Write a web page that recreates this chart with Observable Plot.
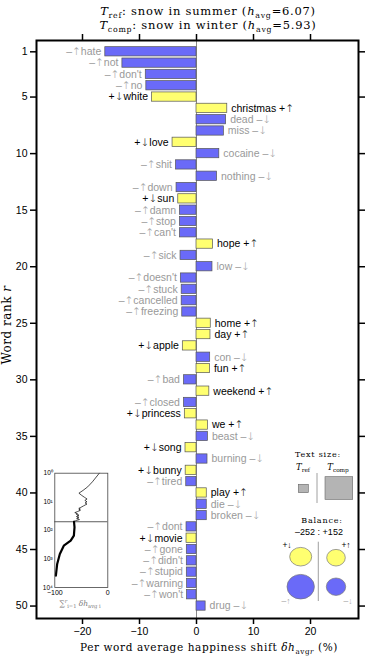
<!DOCTYPE html>
<html>
<head>
<meta charset="utf-8">
<script src="https://cdn.jsdelivr.net/npm/d3@7"></script>
<script src="https://cdn.jsdelivr.net/npm/@observablehq/plot@0.6"></script>
<style>
html,body{margin:0;padding:0;background:#fff;}
#wrap{position:relative;width:366px;height:656px;overflow:hidden;}
#wrap svg{position:absolute;}
</style>
</head>
<body>
<div id="wrap"></div>
<script>
// ---- data ----
const words = ["hate","not","don't","no","white","christmas","dead","miss","love","cocaine","shit","nothing","down","sun","damn","stop","can't","hope","sick","low","doesn't","stuck","cancelled","freezing","home","day","apple","con","fun","bad","weekend","closed","princess","we","beast","song","burning","bunny","tired","play","die","broken","dont","movie","gone","didn't","stupid","warning","won't","drug"];
const shifts = [-16.0,-13.0,-8.9,-8.8,-7.8,5.4,5.2,4.8,-4.2,4.0,-3.6,3.6,-3.5,-3.2,-2.9,-2.9,-2.9,2.9,-2.8,2.8,-2.75,-2.6,-2.6,-2.5,2.5,2.45,-2.4,2.4,2.35,-2.2,2.25,-2.2,-2.05,2.0,2.0,-1.93,1.93,-1.9,-1.8,1.8,1.8,1.8,-1.75,-1.75,-1.7,-1.7,-1.7,-1.65,-1.65,1.6];
// happiness sign of word and direction of frequency change
const signs = ["–","–","–","–","+","+","–","–","+","–","–","–","–","+","–","–","–","+","–","–","–","–","–","–","+","+","+","–","+","–","+","–","+","+","–","+","–","+","–","+","–","–","–","+","–","–","–","–","–","–"];
const arrows = ["↑","↑","↑","↑","↓","↑","↓","↓","↓","↓","↑","↓","↑","↓","↑","↑","↑","↑","↑","↓","↑","↑","↑","↑","↑","↑","↓","↓","↑","↑","↑","↑","↓","↑","↓","↓","↓","↓","↑","↑","↓","↓","↑","↓","↑","↑","↑","↑","↑","↓"];
const rankTicks = [1,5,10,15,20,25,30,35,40,45,50];
const shiftTicks = [-20,-10,0,10,20];
// inset: cumulative shift beyond rank 50
const tailRanks = [78,153,230,345,670,1500,3850];
const tailCum = [-62.8,-64,-70,-83,-90.5,-95.5,-98];
const insetYTicks = [1,10,100,1000,10000];
const insetYTickLabels = ["10⁰","10¹","10²","10³","10⁴"];
const balanceText = "–252 : +152";

const data = words.map((w,i)=>({rank:i+1, word:w, value:shifts[i], sign:signs[i], arrow:arrows[i]}));
const BLUE = "#6a6af8", YELLOW = "#ffff70";
const sans = "Liberation Sans, Arial, Helvetica, sans-serif";
const serif = "DejaVu Serif, serif";

const main = Plot.plot({
  width:366, height:656,
  marginLeft:36, marginRight:8, marginTop:40, marginBottom:38,
  x:{domain:[-28.07,28.42]},
  y:{domain:[0,51.1], reverse:true},
  style:{fontFamily:sans, fontSize:"10px", background:"white"},
  marks:[
    Plot.ruleX([0],{stroke:"#8a8a8a", strokeWidth:1}),
    Plot.rect(data,{x1:0, x2:"value", y1:d=>d.rank-0.41, y2:d=>d.rank+0.41,
      fill:d=>d.sign==="+"?YELLOW:BLUE, stroke:"#555", strokeWidth:0.7}),
    Plot.text(data.filter(d=>d.value<0),{x:"value", y:"rank", text:d=>d.sign+d.arrow+d.word,
      textAnchor:"end", dx:-4, fill:d=>d.sign==="+"?"#000":"#999", fontSize:10.5}),
    Plot.text(data.filter(d=>d.value>0),{x:"value", y:"rank", text:d=>d.word+" "+d.sign+d.arrow,
      textAnchor:"start", dx:4, fill:d=>d.sign==="+"?"#000":"#999", fontSize:10.5}),
    Plot.axisY(rankTicks,{anchor:"left", tickSize:6, tickPadding:3, strokeWidth:1.5, label:null, fontSize:10.5}),
    Plot.axisY(rankTicks,{anchor:"right", tickSize:6, strokeWidth:1.5, label:null, tickFormat:()=>""}),
    Plot.axisX(shiftTicks,{anchor:"bottom", tickSize:6, tickPadding:3, strokeWidth:1.5, label:null, fontSize:10.5, tickFormat:d=>d<0?"−"+Math.abs(d):String(d)}),
    Plot.axisX(shiftTicks,{anchor:"top", tickSize:7, strokeWidth:1.5, label:null, tickFormat:()=>""}),
    Plot.frame({stroke:"black", strokeWidth:2})
  ]
});
main.style.left="0px"; main.style.top="0px";
document.getElementById("wrap").appendChild(main);
// arrows drawn with the DejaVu Sans glyph
d3.select(main).selectAll("text").each(function(){
  const s = this.textContent;
  if(!/[↑↓]/.test(s) || this.children.length) return;
  const el = d3.select(this); this.textContent = "";
  s.split(/([↑↓])/).forEach(part=>{
    if(!part) return;
    const t = el.append("tspan").text(part);
    if(part==="↑"||part==="↓") t.attr("font-family","DejaVu Sans").attr("font-weight","200");
  });
});

// inset
const cum = Array.from(d3.cumsum(shifts));
const insetHead = cum.map((c,i)=>({r:i+1, c}));
const insetTail = [{r:50, c:cum[49]}].concat(tailRanks.map((r,i)=>({r, c:tailCum[i]})));
const inset = Plot.plot({
  width:75, height:150,
  marginLeft:14.3, marginRight:7.7, marginTop:7.7, marginBottom:28,
  x:{domain:[-100,0]},
  y:{type:"log", domain:[1,10000], reverse:true},
  style:{fontFamily:sans, fontSize:"6px", background:"transparent", overflow:"visible"},
  marks:[
    Plot.ruleY([50],{stroke:"#333", strokeWidth:0.8}),
    Plot.line(insetHead,{x:"c", y:"r", stroke:"#000", strokeWidth:0.7}),
    Plot.line(insetTail,{x:"c", y:"r", stroke:"#000", strokeWidth:2.2}),
    Plot.axisY(insetYTicks,{anchor:"left", tickSize:0, tickPadding:2, label:null, tickFormat:d=>insetYTickLabels[Math.round(Math.log10(d))], fontSize:6.5}),
    Plot.axisX([-100,0],{anchor:"bottom", tickSize:0, tickPadding:3, label:null, tickFormat:d=>d<0?"−"+Math.abs(d):"0", fontSize:7}),
    Plot.frame({stroke:"#444", strokeWidth:0.8})
  ]
});
inset.style.left="40px"; inset.style.top="465px";
document.getElementById("wrap").appendChild(inset);

// overlay: titles, axis labels, legend
const ov = d3.select("#wrap").append("svg").attr("width",366).attr("height",656)
  .style("left","0px").style("top","0px").style("pointer-events","none");

function mathText(x,y,parts,opts={}){
  const t = ov.append("text").attr("x",x).attr("y",y).attr("text-anchor",opts.anchor||"middle")
    .attr("font-family",serif).attr("font-size",opts.size||11).attr("fill",opts.fill||"#000")
    .attr("letter-spacing",opts.ls||0);
  if(opts.rotate) t.attr("transform",`rotate(-90,${x},${y})`);
  let shift=0;
  parts.forEach(p=>{
    const s = t.append("tspan").text(p.t);
    const target = p.sub ? (opts.size||11)*0.25 : p.sup ? -(opts.size||11)*0.35 : 0;
    if(target!==shift){ s.attr("dy", target-shift); shift=target; }
    if(p.sub||p.sup) s.attr("font-size",(opts.size||11)*0.68);
    if(p.it) s.attr("font-style","italic");
    if(p.font) s.attr("font-family",p.font);
  });
  return t;
}

mathText(208,15,[{t:"T",it:1},{t:"ref",sub:1},{t:": snow in summer ("},{t:"h",it:1},{t:"avg",sub:1},{t:"=6.07)"}],{size:11.5,ls:0.75});
mathText(208,29,[{t:"T",it:1},{t:"comp",sub:1},{t:": snow in winter ("},{t:"h",it:1},{t:"avg",sub:1},{t:"=5.93)"}],{size:11.5,ls:0.75});
mathText(209,651,[{t:"Per word average happiness shift "},{t:"δh",it:1},{t:"avg",sub:1},{t:"r",sub:1,it:1},{t:" (%)"}],{size:10.5,ls:0.6});
mathText(11,325,[{t:"Word rank "},{t:"r",it:1}],{size:12,ls:0.5,rotate:1});
mathText(80,606,[{t:"∑"},{t:"r",sup:1,it:1},{t:"i=1",sub:1},{t:" δh",it:1},{t:"avg i",sub:1}],{size:7.5,fill:"#777"});

// legend: text size
mathText(318,457,[{t:"Text size:"}],{size:8,ls:0.8});
mathText(303,470,[{t:"T",it:1},{t:"ref",sub:1}],{size:8.5});
mathText(338,470,[{t:"T",it:1},{t:"comp",sub:1}],{size:8.5});
ov.append("rect").attr("x",298.3).attr("y",484.3).attr("width",10).attr("height",8.4).attr("fill","#b4b4b4").attr("stroke","#666").attr("stroke-width",0.6);
ov.append("line").attr("x1",317).attr("x2",317).attr("y1",473).attr("y2",503).attr("stroke","#888").attr("stroke-width",0.8);
ov.append("rect").attr("x",325).attr("y",476.7).attr("width",27.7).attr("height",22.7).attr("fill","#b4b4b4").attr("stroke","#666").attr("stroke-width",0.6);
// legend: balance
mathText(322,523,[{t:"Balance:"}],{size:8,ls:0.8});
ov.append("text").attr("x",319).attr("y",535).attr("text-anchor","middle").attr("font-family",sans).attr("font-size",9).text(balanceText);
const ell=[[300.7,556.7,11,9.3,YELLOW],[336,557.7,9.3,8.3,YELLOW],[300.7,586.7,13.7,12.3,BLUE],[336,586.7,9.7,8.7,BLUE]];
ell.forEach(e=>ov.append("ellipse").attr("cx",e[0]).attr("cy",e[1]).attr("rx",e[2]).attr("ry",e[3]).attr("fill",e[4]).attr("stroke","#777").attr("stroke-width",0.7));
ov.append("line").attr("x1",318.3).attr("x2",318.3).attr("y1",541.7).attr("y2",601).attr("stroke","#888").attr("stroke-width",0.8);
[[287,548,"+↓","#000"],[346,548,"+↑","#000"],[286,604,"–↑","#aaa"],[348,604,"–↓","#aaa"]].forEach(l=>
  ov.append("text").attr("x",l[0]).attr("y",l[1]).attr("text-anchor","middle").attr("font-family",sans).attr("font-size",8.5).attr("fill",l[3]).text(l[2]));
</script>
</body>
</html>
